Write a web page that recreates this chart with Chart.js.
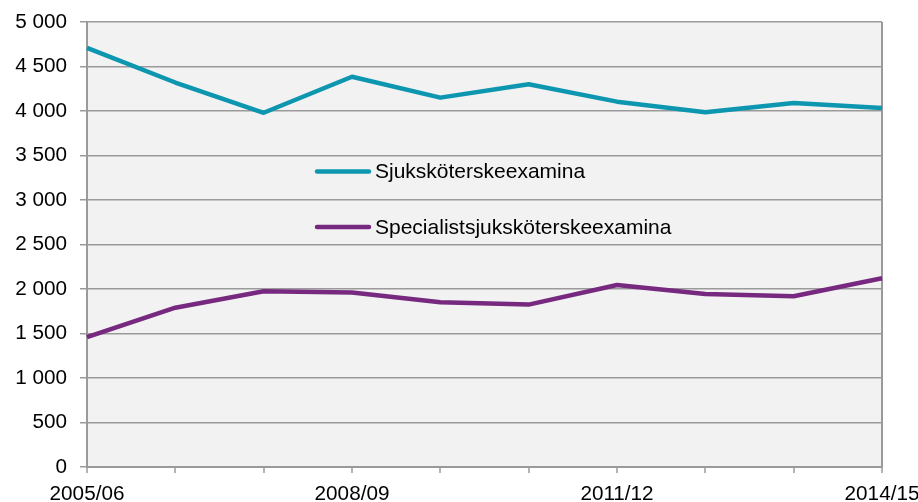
<!DOCTYPE html>
<html>
<head>
<meta charset="utf-8">
<script src="https://cdn.jsdelivr.net/npm/chart.js@4/dist/chart.umd.min.js"></script>
<style>
html,body{margin:0;padding:0;background:#fff;}
#wrap{width:918px;height:502px;}
</style>
</head>
<body>
<div id="wrap"><canvas id="c" width="918" height="502"></canvas></div>
<script>
const categories = ["2005/06","2006/07","2007/08","2008/09","2009/10","2010/11","2011/12","2012/13","2013/14","2014/15"];
const shownLabels = ["2005/06","2008/09","2011/12","2014/15"];
const seriesNames = ["Sjuksköterskeexamina","Specialistsjuksköterskeexamina"];
const sjukValues = [4710, 4320, 3980, 4385, 4150, 4300, 4105, 3985, 4090, 4035];
const specValues = [1460, 1790, 1975, 1960, 1850, 1825, 2045, 1945, 1918, 2120];
const yTicks = [0, 500, 1000, 1500, 2000, 2500, 3000, 3500, 4000, 4500, 5000];

const GRID = '#9a9a9a';
const FONT = 'Liberation Sans, Arial, sans-serif';

const bgPlugin = {
  id: 'bg',
  beforeDraw(chart) {
    const {ctx, chartArea: a} = chart;
    ctx.save();
    ctx.fillStyle = '#f2f2f2';
    ctx.fillRect(a.left, a.top, a.right - a.left, a.bottom - a.top);
    ctx.restore();
  }
};
const legendPlugin = {
  id: 'inlegend',
  afterDatasetsDraw(chart) {
    const {ctx} = chart;
    const ys = [171.5, 227];
    ctx.save();
    chart.data.datasets.forEach((ds, i) => {
      ctx.strokeStyle = ds.borderColor;
      ctx.lineWidth = 4.5;
      ctx.lineCap = 'round';
      ctx.beginPath();
      ctx.moveTo(317, ys[i]);
      ctx.lineTo(369, ys[i]);
      ctx.stroke();
      ctx.fillStyle = '#000';
      ctx.font = '21px ' + FONT;
      ctx.textBaseline = 'middle';
      ctx.textAlign = 'left';
      ctx.fillText(ds.label, 375, ys[i] + 1);
    });
    ctx.restore();
  }
};

new Chart(document.getElementById('c'), {
  type: 'line',
  data: {
    labels: categories,
    datasets: [
      {label: seriesNames[0], data: sjukValues, borderColor: '#0d96b0', borderWidth: 4.5, pointRadius: 0, tension: 0, borderJoinStyle: 'round'},
      {label: seriesNames[1], data: specValues, borderColor: '#76297f', borderWidth: 4.5, pointRadius: 0, tension: 0, borderJoinStyle: 'round'}
    ]
  },
  plugins: [bgPlugin, legendPlugin],
  options: {
    responsive: false,
    animation: false,
    layout: {padding: {top: 22, right: 36, left: 0, bottom: 0}},
    plugins: {legend: {display: false}, tooltip: {enabled: false}},
    scales: {
      x: {
        offset: false,
        afterFit(s) { s.height = 35; s.paddingLeft = 0; s.paddingRight = 0; },
        border: {display: true, color: GRID, width: 2},
        grid: {
          drawOnChartArea: true,
          color: (c) => c.index === categories.length - 1 ? GRID : 'rgba(0,0,0,0)',
          lineWidth: 2,
          tickColor: GRID,
          tickLength: 6,
          tickWidth: 1.5
        },
        ticks: {
          autoSkip: false,
          maxRotation: 0,
          minRotation: 0,
          padding: 9,
          color: '#000',
          font: {family: FONT, size: 20.7},
          callback: function(v, i) { const l = categories[i]; return shownLabels.includes(l) ? l : ''; }
        }
      },
      y: {
        min: yTicks[0],
        max: yTicks[yTicks.length - 1],
        afterFit(s) { s.width = 87; s.paddingTop = 0; s.paddingBottom = 0; },
        afterBuildTicks(s) { s.ticks = yTicks.map(v => ({value: v})); },
        border: {display: true, color: GRID, width: 2},
        grid: {color: GRID, lineWidth: 1.5, tickColor: GRID, tickLength: 7},
        ticks: {
          padding: 13,
          color: '#000',
          font: {family: FONT, size: 20.7},
          callback: (v) => String(v).replace(/\B(?=(\d{3})+(?!\d))/g, ' ')
        }
      }
    }
  }
});
</script>
</body>
</html>
